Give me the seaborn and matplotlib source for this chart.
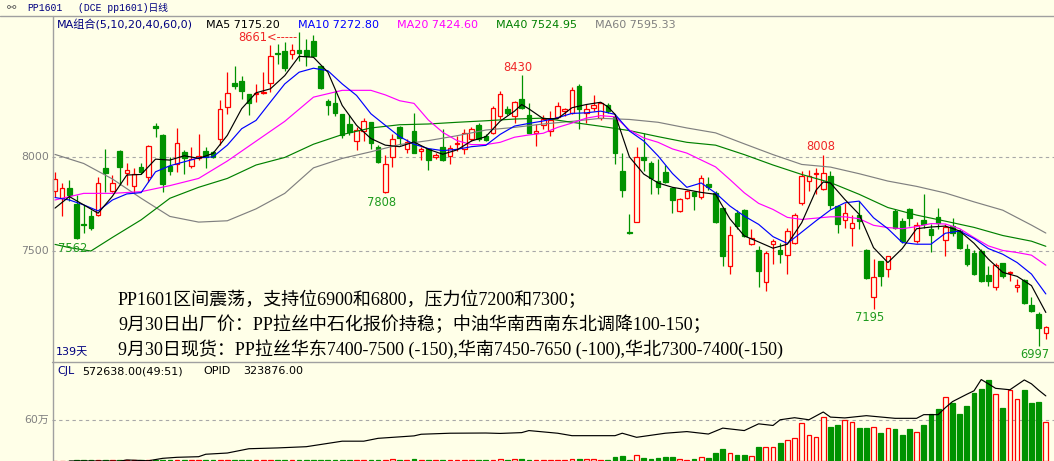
import numpy as np
import pandas as pd
import seaborn as sns
import matplotlib.pyplot as plt
from matplotlib.lines import Line2D

# daily candles, PP1601, 139 sessions
opens = [7820, 7780, 7835, 7748, 7643, 7686, 7692, 7937, 7818, 8030,
         7914, 7846, 7946, 7893, 8162, 8116, 7951, 7958, 8025, 7948,
         7990, 8028, 8025, 8090, 8262, 8390, 8397, 8330, 8330, 8335,
         8388, 8547, 8560, 8542, 8563, 8563, 8612, 8477, 8291, 8284,
         8226, 8172, 8081, 8133, 8183, 8051, 7812, 7998, 8158, 8042,
         8135, 8030, 8042, 7995, 8052, 8003, 8065, 8038, 8091, 8165,
         8109, 8126, 8214, 8252, 8214, 8302, 8217, 8126, 8165, 8135,
         8210, 8240, 8231, 8372, 8228, 8258, 8205, 8275, 8210, 7921,
         7600, 7653, 7998, 7968, 7872, 7919, 7831, 7714, 7779, 7810,
         7784, 7854, 7807, 7725, 7422, 7702, 7715, 7536, 7506, 7334,
         7536, 7506, 7478, 7545, 7752, 7869, 7908, 7829, 7899, 7738,
         7664, 7624, 7688, 7506, 7255, 7446, 7404, 7713, 7659, 7724,
         7553, 7662, 7615, 7681, 7559, 7632, 7606, 7510, 7492, 7501,
         7373, 7308, 7436, 7383, 7308, 7348, 7215, 7167, 7068]
highs = [7920, 7858, 7876, 7797, 7744, 7718, 7893, 8042, 7902, 8033,
         7963, 7937, 7963, 8063, 8177, 8119, 7998, 8151, 8033, 8051,
         8121, 8051, 8028, 8300, 8446, 8481, 8428, 8332, 8384, 8449,
         8590, 8595, 8604, 8595, 8661, 8621, 8642, 8481, 8302, 8344,
         8226, 8221, 8156, 8204, 8183, 8060, 8007, 8117, 8161, 8091,
         8228, 8052, 8047, 8016, 8144, 8059, 8109, 8144, 8158, 8175,
         8117, 8266, 8349, 8266, 8293, 8430, 8284, 8170, 8217, 8240,
         8287, 8258, 8368, 8386, 8280, 8323, 8287, 8284, 8223, 8017,
         7696, 8052, 8126, 7977, 7989, 7954, 7837, 7779, 7824, 7819,
         7902, 7889, 7819, 7725, 7632, 7716, 7720, 7615, 7527, 7501,
         7562, 7545, 7624, 7702, 7922, 7930, 7939, 8008, 7922, 7741,
         7755, 7688, 7764, 7510, 7460, 7448, 7474, 7720, 7676, 7729,
         7653, 7799, 7641, 7729, 7641, 7676, 7615, 7536, 7506, 7510,
         7422, 7436, 7439, 7396, 7352, 7352, 7255, 7176, 7101]
lows = [7788, 7683, 7762, 7562, 7595, 7613, 7683, 7814, 7814, 7849,
        7849, 7805, 7905, 7867, 8104, 7814, 7902, 7919, 7905, 7937,
        7981, 7937, 7990, 8060, 8226, 8358, 8305, 8221, 8288, 8332,
        8340, 8490, 8454, 8516, 8507, 8481, 8525, 8358, 8221, 8214,
        8098, 8116, 8033, 8081, 8042, 7963, 7808, 7942, 8059, 8021,
        8017, 7982, 7930, 7986, 7977, 7959, 8030, 8012, 8082, 8082,
        8082, 8117, 8200, 8217, 8179, 8252, 8123, 8056, 8144, 8109,
        8205, 8214, 8223, 8144, 8175, 8240, 8193, 8231, 7959, 7784,
        7591, 7653, 7924, 7802, 7802, 7860, 7702, 7709, 7775, 7719,
        7775, 7824, 7649, 7422, 7378, 7615, 7576, 7532, 7308, 7290,
        7431, 7439, 7378, 7536, 7746, 7816, 7799, 7825, 7724, 7594,
        7624, 7527, 7615, 7352, 7195, 7317, 7360, 7615, 7545, 7632,
        7541, 7624, 7496, 7615, 7474, 7580, 7510, 7422, 7373, 7338,
        7317, 7296, 7355, 7343, 7282, 7220, 7180, 6997, 7036]
closes = [7881, 7835, 7797, 7569, 7636, 7621, 7858, 7911, 7858, 7946,
          7928, 7907, 7919, 8056, 8151, 7856, 7925, 8072, 7990, 7986,
          8004, 7998, 7997, 8253, 8335, 8372, 8349, 8284, 8337, 8340,
          8533, 8540, 8467, 8563, 8547, 8533, 8533, 8361, 8274, 8232,
          8116, 8130, 8139, 8186, 8069, 7972, 7960, 8095, 8096, 8077,
          8021, 8038, 7981, 8007, 7982, 8047, 8074, 8123, 8147, 8091,
          8088, 8258, 8328, 8231, 8289, 8258, 8126, 8135, 8196, 8191,
          8266, 8249, 8354, 8252, 8252, 8270, 8284, 8240, 8017, 7824,
          7595, 7995, 7982, 7886, 7837, 7866, 7772, 7775, 7819, 7793,
          7884, 7837, 7652, 7474, 7583, 7632, 7580, 7571, 7396, 7492,
          7553, 7483, 7606, 7690, 7895, 7895, 7913, 7913, 7741, 7641,
          7702, 7650, 7659, 7355, 7364, 7369, 7471, 7620, 7553, 7676,
          7636, 7641, 7583, 7646, 7629, 7594, 7518, 7431, 7378, 7343,
          7343, 7425, 7369, 7390, 7320, 7225, 7185, 7092, 7097]
volumes = [3000, 3000, 5000, 15000, 8000, 12000, 15000, 10000, 8000, 10000,
           8000, 10000, 8000, 12000, 8000, 12000, 10000, 12000, 10000, 10000,
           10000, 15000, 15000, 12000, 12000, 15000, 15000, 20000, 15000, 18000,
           15000, 15000, 15000, 15000, 15000, 12000, 15000, 12000, 15000, 20000,
           12000, 15000, 15000, 18000, 15000, 20000, 20000, 33000, 20000, 18000,
           33000, 20000, 20000, 15000, 15000, 15000, 15000, 15000, 15000, 20000,
           20000, 20000, 33000, 20000, 28000, 30000, 20000, 15000, 15000, 18000,
           18000, 18000, 30000, 33000, 30000, 30000, 22000, 22000, 62000, 72000,
           18000, 88000, 43000, 33000, 48000, 53000, 62000, 28000, 18000, 28000,
           62000, 48000, 113000, 183000, 125000, 88000, 88000, 78000, 203000, 213000,
           213000, 259000, 314000, 334000, 555000, 389000, 354000, 645000, 500000, 530000,
           600000, 570000, 490000, 490000, 500000, 414000, 485000, 474000, 379000, 469000,
           424000, 530000, 690000, 760000, 946000, 861000, 700000, 816000, 997000, 1062000,
           1192000, 992000, 786000, 1042000, 921000, 1047000, 861000, 876000, 572638]

# moving averages (session index, value)
ma5_x = [0, 2, 4, 6, 8, 10, 12, 14, 16, 18, 20, 22, 24, 26, 28, 30, 32, 34, 36, 38,
         40, 42, 44, 46, 48, 50, 52, 54, 56, 58, 60, 62, 64, 65, 66, 68, 70, 72, 74, 76,
         77, 78, 80, 82, 84, 86, 88, 90, 92, 94, 96, 98, 100, 102, 104, 106, 107, 108,
         110, 112, 114, 116, 118, 120, 122, 124, 126, 128, 130, 132, 134, 136, 138]
ma5_y = [7727, 7788, 7744, 7700, 7790, 7902, 7905, 7986, 7981, 8004, 7990, 8016, 8112, 8253,
         8337, 8358, 8428, 8530, 8525, 8446, 8270, 8165, 8095, 8060, 8052, 8077, 8038, 8012,
         8035, 8082, 8105, 8187, 8240, 8275, 8252, 8200, 8200, 8258, 8275, 8287, 8263, 8223,
         7998, 7907, 7860, 7837, 7824, 7810, 7800, 7670, 7580, 7548, 7515, 7536, 7650, 7822,
         7865, 7860, 7773, 7694, 7518, 7439, 7513, 7618, 7627, 7632, 7606, 7541, 7457, 7387,
         7366, 7317, 7175]
ma10_x = list(range(0, 139, 2))
ma10_y = [7783, 7770, 7744, 7712, 7770, 7802, 7809, 7919, 7951, 7972, 7993, 7998, 8060, 8147,
          8191, 8288, 8384, 8446, 8467, 8454, 8384, 8323, 8226, 8165, 8105, 8065, 8042, 8031,
          8038, 8052, 8059, 8117, 8161, 8175, 8188, 8205, 8228, 8231, 8240, 8223, 8135, 8082,
          8003, 7910, 7837, 7860, 7807, 7738, 7685, 7641, 7576, 7540, 7600, 7660, 7717, 7755,
          7764, 7676, 7618, 7545, 7536, 7536, 7594, 7606, 7566, 7513, 7483, 7439, 7378, 7273]
ma20_x = [0, 4, 8, 12, 16, 20, 24, 28, 32, 36, 40, 44, 46, 48, 50, 52, 54, 56, 58, 60,
          62, 64, 66, 68, 70, 72, 74, 76, 78, 80, 82, 84, 86, 88, 92, 94, 96, 98, 100, 102,
          104, 106, 108, 110, 112, 114, 116, 118, 120, 122, 124, 126, 128, 130, 132, 134, 136, 138]
ma20_y = [7770, 7805, 7805, 7814, 7846, 7884, 7976, 8081, 8186, 8314, 8350, 8350, 8326, 8295,
          8281, 8193, 8128, 8084, 8063, 8063, 8075, 8102, 8114, 8123, 8154, 8177, 8203, 8216,
          8210, 8140, 8098, 8075, 8040, 8018, 7945, 7878, 7808, 7752, 7720, 7678, 7667, 7674,
          7681, 7681, 7671, 7636, 7624, 7618, 7629, 7645, 7643, 7618, 7571, 7527, 7503, 7492,
          7478, 7425]
ma40_x = [0, 2, 5, 8, 12, 16, 20, 24, 28, 32, 36, 40, 44, 48, 52, 56, 60, 64, 68, 72,
          76, 80, 84, 88, 92, 96, 100, 104, 108, 112, 116, 120, 124, 128, 132, 136, 138]
ma40_y = [7535, 7518, 7500, 7572, 7665, 7779, 7837, 7884, 7955, 7995, 8065, 8116, 8151, 8168,
          8172, 8181, 8189, 8198, 8203, 8181, 8160, 8137, 8105, 8075, 8060, 8010, 7955, 7905,
          7862, 7800, 7730, 7690, 7658, 7625, 7582, 7552, 7525]
ma60_x = list(range(0, 137, 4)) + [138]
ma60_y = [8011, 7963, 7881, 7779, 7683, 7653, 7660, 7723, 7805, 7940, 7990, 8025, 8063, 8084,
          8110, 8140, 8154, 8172, 8186, 8202, 8196, 8181, 8151, 8125, 8067, 8010, 7958, 7944,
          7909, 7870, 7842, 7807, 7760, 7716, 7637, 7595]

# open interest (OPID)
oi_x = [2, 6, 9, 10, 13, 15, 17, 20, 21, 24, 27, 31, 35, 40, 43, 45, 50, 51, 55, 60,
        62, 65, 66, 70, 72, 78, 79, 81, 85, 88, 91, 93, 96, 98, 100, 101, 103, 105, 107, 108,
        110, 113, 117, 120, 121, 123, 124, 125, 127, 128, 129, 130, 131, 133, 135, 136, 137, 138]
oi_y = [5000, 5000, 4000, 10000, 6000, 18000, 23000, 26000, 38000, 44000, 65000, 69000, 75000,
        102000, 102000, 116000, 128000, 136000, 141000, 142000, 140000, 144000, 154000, 141000,
        129000, 129000, 141000, 121000, 141000, 149000, 137000, 166000, 154000, 187000, 179000,
        207000, 217000, 207000, 245000, 220000, 216000, 227000, 214000, 214000, 232000, 232000,
        266000, 296000, 332000, 349000, 404000, 383000, 361000, 354000, 402000, 383000, 352000,
        323876]

# labelled extremes: (session, price, text, colour key, dx px, dy px)
marks = [(34, 8661, '8661<-----', 'r', -2, -6),
         (65, 8430, '8430', 'r', -4, 8),
         (46, 7808, '7808', 'g', -4, -10),
         (3, 7562, '7562', 'g', -4, -9),
         (107, 8008, '8008', 'r', -3, 8),
         (114, 7195, '7195', 'g', -4, -9),
         (137, 6997, '6997', 'g', -4, -8)]

text_lines = ['PP1601区间震荡，支持位6900和6800，压力位7200和7300；',
              '9月30日出厂价：PP拉丝中石化报价持稳；中油华南西南东北调降100-150；',
              '9月30日现货：PP拉丝华东7400-7500 (-150),华南7450-7650 (-100),华北7300-7400(-150)']

BG = '#FFFFE8'
RED = '#FF0000'
GREEN = '#009200'
GRID = '#A8A8A8'

sns.set_style('white', {'axes.facecolor': BG, 'figure.facecolor': BG})
plt.rcParams['font.family'] = ['DejaVu Sans', 'Noto Sans CJK SC']

W, H = 1054, 461
fig = plt.figure(figsize=(W / 100, H / 100), dpi=100)
fig.patch.set_facecolor(BG)


def fx(px):
    return px / W


def fy(py):
    return 1 - py / H


# pixel mapping of the original chart
x_of = lambda px: (px - 55) / 7.18
p_of = lambda py: 8000 - (py - 156.5) * 5.29

ax = fig.add_axes([fx(52), fy(362), fx(W - 52), (362 - 17) / H])

for lvl in (8000, 7500):
    ax.axhline(lvl, color=GRID, lw=0.8, ls=(0, (3, 3)), zorder=0)

df = pd.DataFrame({'o': opens, 'h': highs, 'l': lows, 'c': closes, 'v': volumes})
df['i'] = np.arange(len(df))
up = df[df['c'] > df['o']]
dn = df[df['c'] <= df['o']]

ax.vlines(up['i'], up['c'], up['h'], color=RED, lw=0.9, zorder=1)
ax.vlines(up['i'], up['l'], up['o'], color=RED, lw=0.9, zorder=1)
ax.bar(up['i'], up['c'] - up['o'], bottom=up['o'], width=0.64,
       facecolor=BG, edgecolor=RED, lw=0.9, zorder=2)
ax.vlines(dn['i'], dn['l'], dn['h'], color=GREEN, lw=0.9, zorder=1)
ax.bar(dn['i'], dn['o'] - dn['c'], bottom=dn['c'], width=0.64,
       facecolor=GREEN, edgecolor=GREEN, lw=0.9, zorder=2)

for xs, ys, col in [(ma60_x, ma60_y, '#808080'), (ma40_x, ma40_y, '#008000'),
                    (ma20_x, ma20_y, '#FF00FF'), (ma10_x, ma10_y, '#0000FF'),
                    (ma5_x, ma5_y, '#000000')]:
    sns.lineplot(x=xs, y=ys, ax=ax, color=col, lw=0.85, sort=False,
                 estimator=None, zorder=3)
ax.set_xlim(x_of(52), x_of(W))
ax.set_ylim(p_of(362), p_of(17))
ax.axis('off')

for i, p, t, k, dx, dy in marks:
    ha = 'right' if t.endswith('-') else 'center'
    ax.annotate(t, (i, p), xytext=(dx, dy), textcoords='offset pixels',
                ha=ha, va='center', fontsize=8.3,
                color='#F02828' if k == 'r' else '#1E9B1E', zorder=5)

# volume panel
axv = fig.add_axes([fx(52), 0, fx(W - 52), (461 - 362) / H])
axv.axhline(600000, color=GRID, lw=0.8, ls=(0, (3, 3)), zorder=0)
axv.bar(up['i'], up['v'], width=0.66, facecolor=BG, edgecolor=RED, lw=0.9)
axv.bar(dn['i'], dn['v'], width=0.66, facecolor=GREEN, edgecolor=GREEN, lw=0.9)
axv.set_xlim(x_of(52), x_of(W))
axv.set_ylim(0, 99 * 14742)
axv.axis('off')

axo = axv.twinx()
sns.lineplot(x=oi_x, y=oi_y, ax=axo, color='black', lw=0.85, sort=False, estimator=None)
axo.set_xlim(x_of(52), x_of(W))
axo.set_ylim(4900, 490000)
axo.axis('off')

# frame lines
fig.add_artist(Line2D([0, 1], [fy(16.5)] * 2, color='#A0A0A0', lw=1))
fig.add_artist(Line2D([fx(52.5)] * 2, [fy(16.5), 0], color='#A0A0A0', lw=1))
fig.add_artist(Line2D([fx(52), 1], [fy(362)] * 2, color='#A0A0A0', lw=1))

# title bar
fig.text(fx(7), fy(8), '⚯', fontsize=8, color='#555555', va='center')
mono = ['Liberation Mono', 'Noto Sans CJK SC']
fig.text(fx(27), fy(8), 'PP1601', family=mono, fontsize=7, color='#000080', va='center')
fig.text(fx(78), fy(8), '(DCE pp1601)日线', family=mono, fontsize=7, color='#000080',
         va='center')

# MA legend row
legend = [(57, 'MA组合(5,10,20,40,60,0)', '#000080'),
          (206, 'MA5 7175.20', '#000000'),
          (298, 'MA10 7272.80', '#0000FF'),
          (397, 'MA20 7424.60', '#FF00FF'),
          (496, 'MA40 7524.95', '#008000'),
          (595, 'MA60 7595.33', '#808080')]
for px, t, col in legend:
    fig.text(fx(px), fy(25), t, fontsize=8, color=col, va='center')

# left scale labels
for py, t in [(157, '8000'), (251, '7500'), (420, '60万')]:
    fig.text(fx(49), fy(py), t, fontsize=7.8, color='#808080', ha='right', va='center')

fig.text(fx(56), fy(352), '139天', fontsize=8, color='#000080', va='center')

fig.text(fx(57), fy(371), 'CJL', fontsize=8, color='#000080', va='center')
fig.text(fx(82), fy(371), '572638.00(49:51)', fontsize=8, color='#000000', va='center')
fig.text(fx(203), fy(371), 'OPID', fontsize=8, color='#000000', va='center')
fig.text(fx(243), fy(371), '323876.00', fontsize=8, color='#000000', va='center')

serif = ['Liberation Serif', 'Noto Sans CJK SC']
for k, t in enumerate(text_lines):
    fig.text(fx(118), fy(305 + 25 * k), t, family=serif, fontsize=13,
             color='#000000', va='baseline')

fig.savefig('out.png', dpi=100, facecolor=BG)
